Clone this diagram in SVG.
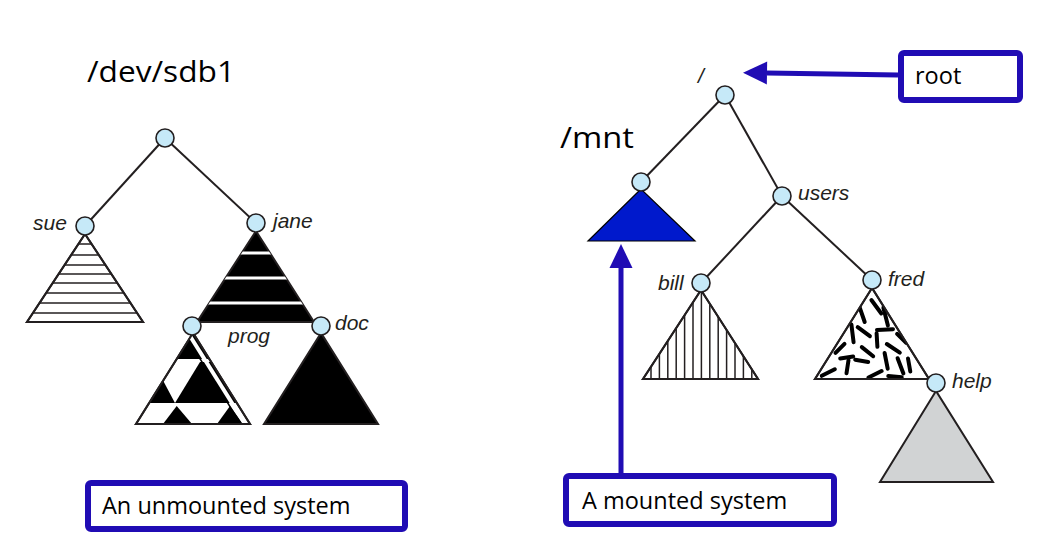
<svg xmlns="http://www.w3.org/2000/svg" width="1040" height="547" viewBox="0 0 1040 547">
<style>
.edge{stroke:#231f20;stroke-width:2;fill:none}
.node{fill:#c6e9f8;stroke:#231f20;stroke-width:1.6}
.tri{stroke:#231f20;stroke-width:2;stroke-linejoin:miter}
.lbl{font-family:"Liberation Sans",Arial,sans-serif;font-style:italic;font-size:21px;fill:#231f20}
.big{font-family:"Open Sans","Noto Sans",sans-serif;font-size:30px;fill:#000}
.boxt{font-family:"Open Sans","Noto Sans",sans-serif;font-size:23.5px;fill:#000}
.box{fill:#fff;stroke:#200cb4;stroke-width:6}
.arrow{stroke:#200cb4;stroke-width:5;fill:none}
.hatch{stroke:#231f20;stroke-width:1.5}
.dash{stroke:#000;stroke-width:4;stroke-linecap:round}
</style>
<defs>
<marker id="ah" markerUnits="userSpaceOnUse" markerWidth="24" markerHeight="24" refX="0" refY="11.5" orient="auto" overflow="visible">
<path d="M0,0 L24,11.5 L0,23 z" fill="#200cb4"/>
</marker>
<clipPath id="cSue"><polygon points="85,234 27,322 143,322"/></clipPath>
<clipPath id="cJane"><polygon points="256,231 197,322 314,322"/></clipPath>
<clipPath id="cProg"><polygon points="193,333 136,424 250,424"/></clipPath>
<clipPath id="cBill"><polygon points="701,290 643,379 758,379"/></clipPath>
<clipPath id="cFred"><polygon points="872,288 815,379 929,379"/></clipPath>
</defs>
<rect width="1040" height="547" fill="#fff"/>

<g id="connectors">
<line class="edge" x1="165" y1="138" x2="85" y2="226"/>
<line class="edge" x1="165" y1="138" x2="256" y2="223"/>
<line class="edge" x1="725" y1="95" x2="641" y2="182"/>
<line class="edge" x1="725" y1="95" x2="782" y2="196"/>
<line class="edge" x1="782" y1="196" x2="701" y2="283"/>
<line class="edge" x1="782" y1="196" x2="872" y2="280"/>
<line class="arrow" x1="898" y1="75" x2="767" y2="73" marker-end="url(#ah)"/>
<line class="arrow" x1="621" y1="473" x2="621" y2="268" marker-end="url(#ah)"/>
</g>

<g id="label-devsdb1"><text class="big" x="87" y="82" textLength="148" lengthAdjust="spacingAndGlyphs">/dev/sdb1</text></g>
<g id="label-mnt"><text class="big" x="560" y="148" textLength="74" lengthAdjust="spacingAndGlyphs">/mnt</text></g>

<g id="node-left-root"><circle class="node" cx="165" cy="138" r="9"/></g>

<g id="node-sue">
<polygon class="tri" points="85,234 27,322 143,322" fill="#fff"/>
<g clip-path="url(#cSue)" class="hatch">
<line x1="20" y1="244" x2="150" y2="244"/><line x1="20" y1="255" x2="150" y2="255"/>
<line x1="20" y1="265" x2="150" y2="265"/><line x1="20" y1="274" x2="150" y2="274"/>
<line x1="20" y1="283" x2="150" y2="283"/><line x1="20" y1="293" x2="150" y2="293"/>
<line x1="20" y1="303" x2="150" y2="303"/><line x1="20" y1="313" x2="150" y2="313"/>
</g>
<polygon class="tri" points="85,234 27,322 143,322" fill="none"/>
<circle class="node" cx="85" cy="226" r="9"/>
<text class="lbl" x="33" y="230">sue</text>
</g>

<g id="node-jane">
<polygon class="tri" points="256,231 197,322 314,322" fill="#000"/>
<g clip-path="url(#cJane)" stroke="#fff" stroke-width="3">
<line x1="190" y1="253" x2="320" y2="253"/><line x1="190" y1="278" x2="320" y2="278"/><line x1="190" y1="303" x2="320" y2="303"/>
</g>
<circle class="node" cx="256" cy="223" r="9"/>
<text class="lbl" x="273" y="228">jane</text>
</g>

<g id="node-prog">
<polygon class="tri" points="193,333 136,424 250,424" fill="#fff"/>
<g clip-path="url(#cProg)" fill="#000">
<rect x="130" y="328" width="130" height="31"/>
<polygon points="200,362 215,362 245,403 175,403"/>
<polygon points="163.3,381 175,403 130,403 130,381"/>
<polygon points="176.7,406 192,424 163,424"/>
<polygon points="230,406 243,424 217,424"/>
<line x1="190" y1="336" x2="247" y2="427" stroke="#fff" stroke-width="4"/>
<line x1="187" y1="338" x2="244" y2="429" stroke="#000" stroke-width="1.5"/>
</g>
<polygon class="tri" points="193,333 136,424 250,424" fill="none"/>
<circle class="node" cx="192" cy="326" r="9"/>
<text class="lbl" x="228" y="343">prog</text>
</g>

<g id="node-doc">
<polygon class="tri" points="321,333 264,424 378,424" fill="#000"/>
<circle class="node" cx="321" cy="326" r="9"/>
<text class="lbl" x="335" y="330">doc</text>
</g>

<g id="node-right-root">
<circle class="node" cx="725" cy="95" r="9"/>
<text class="lbl" x="698" y="83">/</text>
</g>

<g id="node-mnt">
<polygon points="641,189 588,241 695,241" fill="#0019cc" stroke="#000" stroke-width="1.2"/>
<circle class="node" cx="641" cy="182" r="9"/>
</g>

<g id="node-users">
<circle class="node" cx="782" cy="196" r="9"/>
<text class="lbl" x="798" y="200">users</text>
</g>

<g id="node-bill">
<polygon class="tri" points="701,290 643,379 758,379" fill="#fff"/>
<g clip-path="url(#cBill)" class="hatch">
<line x1="651" y1="280" x2="651" y2="380"/><line x1="659.4" y1="280" x2="659.4" y2="380"/>
<line x1="667.8" y1="280" x2="667.8" y2="380"/><line x1="676.2" y1="280" x2="676.2" y2="380"/>
<line x1="684.6" y1="280" x2="684.6" y2="380"/><line x1="693" y1="280" x2="693" y2="380"/>
<line x1="701.4" y1="280" x2="701.4" y2="380"/><line x1="709.8" y1="280" x2="709.8" y2="380"/>
<line x1="718.2" y1="280" x2="718.2" y2="380"/><line x1="726.6" y1="280" x2="726.6" y2="380"/>
<line x1="735" y1="280" x2="735" y2="380"/><line x1="743.4" y1="280" x2="743.4" y2="380"/>
<line x1="751.8" y1="280" x2="751.8" y2="380"/>
</g>
<polygon class="tri" points="701,290 643,379 758,379" fill="none"/>
<circle class="node" cx="701" cy="283" r="9"/>
<text class="lbl" x="658" y="290">bill</text>
</g>

<g id="node-fred">
<polygon class="tri" points="872,288 815,379 929,379" fill="#fff"/>
<g clip-path="url(#cFred)" class="dash">
<line x1="871.4" y1="300" x2="881.3" y2="313.5"/>
<line x1="859.3" y1="306.3" x2="864.7" y2="322"/>
<line x1="883.4" y1="307.7" x2="887.9" y2="325.6"/>
<line x1="851.4" y1="324.4" x2="853.6" y2="342.3"/>
<line x1="857.7" y1="327.1" x2="869.9" y2="336.2"/>
<line x1="877" y1="330" x2="893" y2="329.2"/>
<line x1="876.6" y1="333.3" x2="877.4" y2="346.8"/>
<line x1="897.1" y1="333.8" x2="906.2" y2="342.9"/>
<line x1="835.5" y1="352.9" x2="844.5" y2="343.8"/>
<line x1="861.8" y1="347.1" x2="873.2" y2="356.2"/>
<line x1="886.8" y1="344" x2="899.8" y2="352.7"/>
<line x1="840.2" y1="358.5" x2="853.2" y2="356.5"/>
<line x1="855.2" y1="359.7" x2="868.2" y2="362"/>
<line x1="884.6" y1="353" x2="887.7" y2="368.7"/>
<line x1="897.6" y1="358.2" x2="903.4" y2="373.5"/>
<line x1="908" y1="358.5" x2="910.3" y2="371.5"/>
<line x1="848.5" y1="360.2" x2="846.5" y2="373.2"/>
<line x1="821.8" y1="375.8" x2="834.8" y2="369.3"/>
<line x1="868.5" y1="377.5" x2="881.5" y2="371"/>
<line x1="888.3" y1="376" x2="901.7" y2="377.3"/>
</g>
<polygon class="tri" points="872,288 815,379 929,379" fill="none"/>
<circle class="node" cx="872" cy="280" r="9"/>
<text class="lbl" x="888" y="286">fred</text>
</g>

<g id="node-help">
<polygon class="tri" points="936,391 880,482 993,482" fill="#d1d3d4"/>
<circle class="node" cx="936" cy="383" r="9"/>
<text class="lbl" x="952" y="388">help</text>
</g>

<g id="box-root">
<rect class="box" x="901" y="53" width="119" height="47" rx="3"/>
<text class="boxt" x="915" y="84">root</text>
</g>
<g id="box-mounted">
<rect class="box" x="566" y="476" width="268" height="48" rx="3"/>
<text class="boxt" x="582" y="509">A mounted system</text>
</g>
<g id="box-unmounted">
<rect class="box" x="88" y="483" width="317" height="46" rx="3"/>
<text class="boxt" x="102" y="514">An unmounted system</text>
</g>
</svg>
